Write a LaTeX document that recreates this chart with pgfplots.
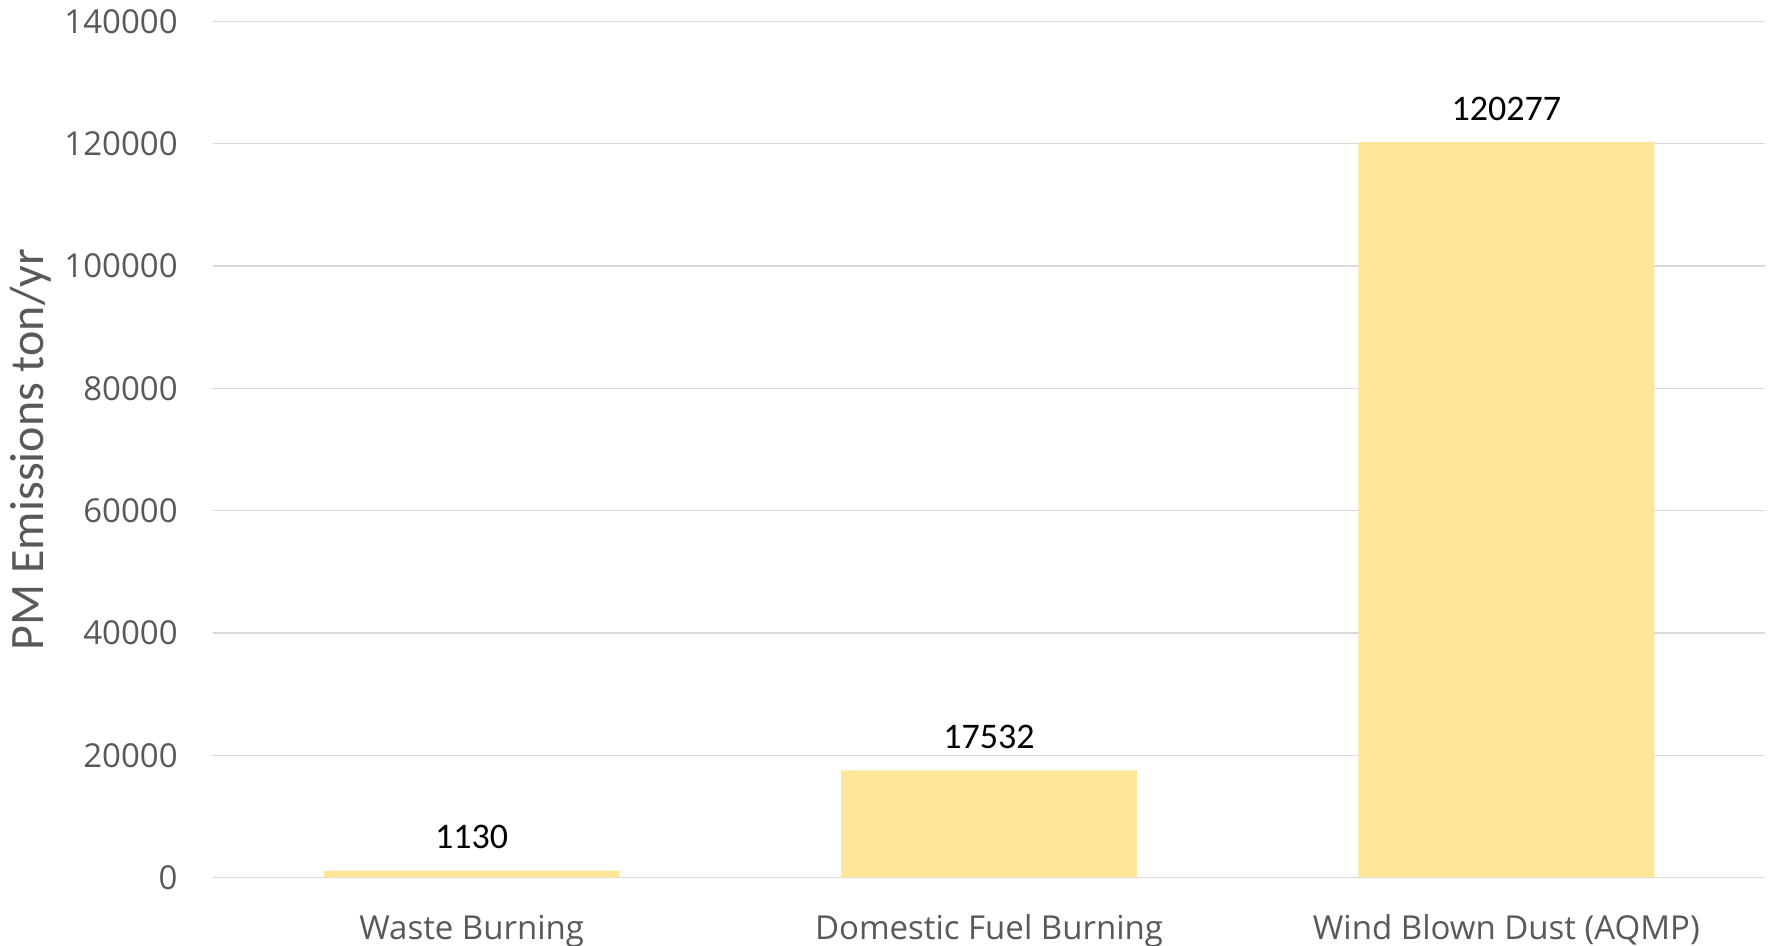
\documentclass[border=0pt]{standalone}
\usepackage{pgfplots}
\pgfplotsset{compat=1.18}
\usepackage{fontspec}
\setmainfont{Carlito}
\newfontfamily\tickfont{Open Sans}
\definecolor{barfill}{HTML}{FFE699}
\definecolor{gridgray}{HTML}{D9D9D9}
\definecolor{labelgray}{HTML}{595959}
\begin{document}
\begin{tikzpicture}
\useasboundingbox (-106.5pt,-34pt) rectangle (782pt,438.75pt);
\begin{axis}[
  scale only axis,
  width=776pt, height=428pt,
  xmin=-0.5, xmax=2.5,
  ymin=0, ymax=140000,
  ytick={0,20000,40000,60000,80000,100000,120000,140000},
  scaled y ticks=false,
  xtick=data,
  xticklabels={Waste Burning, Domestic Fuel Burning, Wind Blown Dust (AQMP)},
  axis line style={draw=none},
  major tick length=0pt,
  ymajorgrids,
  major grid style={draw=gridgray, line width=0.7pt},
  /pgf/number format/.cd, fixed, 1000 sep={}, assume math mode=true,
  /pgfplots/.cd,
  yticklabel style={font=\tickfont\fontsize{16.5}{19}\selectfont, text=labelgray, anchor=east, inner sep=0pt, xshift=-17.5pt},
  xticklabel style={font=\tickfont\fontsize{16.5}{19}\selectfont, text=labelgray, anchor=base, inner sep=0pt, yshift=-31pt},
  ylabel={PM Emissions ton/yr},
  every axis y label/.style={at={(axis description cs:-0.1173,0.5)}, rotate=90, anchor=center, font=\fontsize{24}{28}\selectfont, text=labelgray},
  ybar, bar width=0.572,
  nodes near coords,
  every node near coord/.append style={font=\fontsize{18}{21}\selectfont, text=black, anchor=base, inner sep=0pt, yshift=11pt},
]
\addplot[fill=barfill, draw=none] coordinates {(0,1130) (1,17532) (2,120277)};
\end{axis}
\end{tikzpicture}
\end{document}
